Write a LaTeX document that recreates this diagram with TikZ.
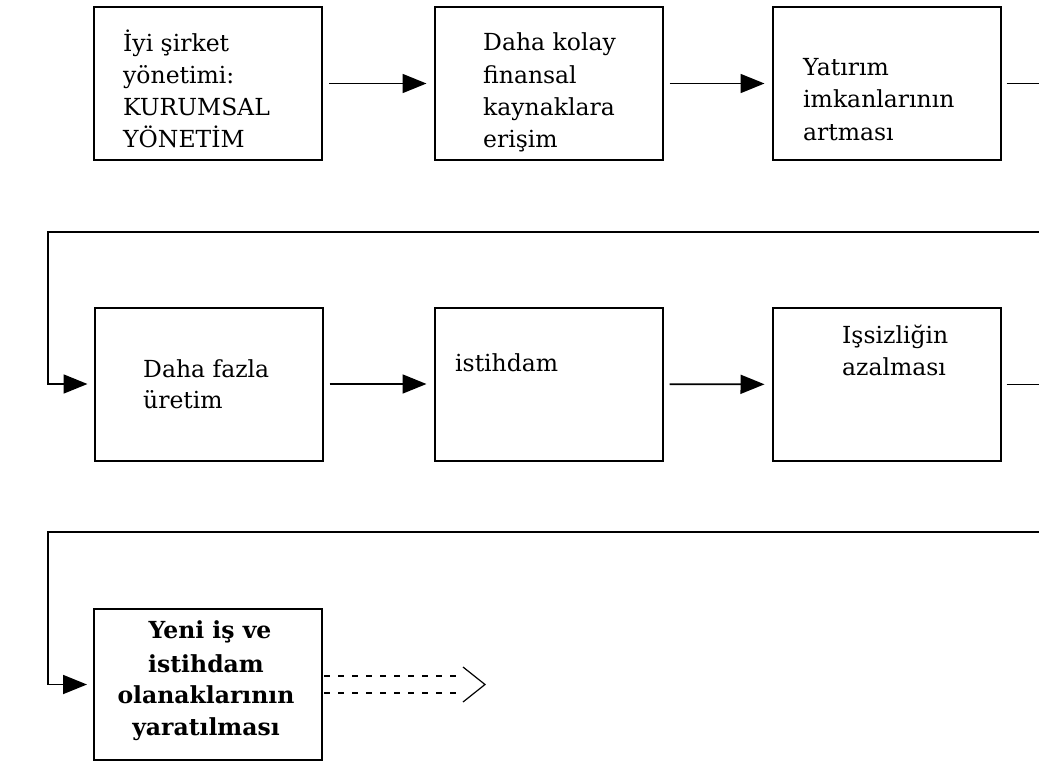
\documentclass[tikz,border=0pt]{standalone}
\usepackage{fontspec}
\setmainfont{DejaVu Serif}
\usetikzlibrary{arrows.meta}
\tikzset{
 box/.style={draw=black, line width=2pt, minimum width=228pt, minimum height=153pt, inner sep=0pt},
 lbl/.style={anchor=base west, inner sep=0pt, font=\fontsize{23.5}{32}\selectfont},
 blbl/.style={anchor=base, inner sep=0pt, font=\fontsize{23.5}{32}\selectfont\bfseries},
 conn/.style={line width=1.8pt},
 arr/.style={conn, -{Triangle[length=24pt,width=19pt]}},
 dline/.style={line width=1.2pt, dash pattern=on 6pt off 8pt},
}
\begin{document}
\begin{tikzpicture}[x=1pt,y=-1pt]
\useasboundingbox (0,0) rectangle (1039,763);
% boxes
\node[box] (b1) at (208,83.5) {};
\node[box] (b2) at (548.5,83.5) {};
\node[box] (b3) at (886.5,83.5) {};
\node[box] (b4) at (208.5,384) {};
\node[box] (b5) at (548.5,384) {};
\node[box] (b6) at (886.5,384.5) {};
\node[box, minimum height=151pt] (b7) at (208,684.5) {};
% texts
\node[lbl] (t1a) at (123,51) {İyi şirket};
\node[lbl] (t1b) at (123,83) {yönetimi:};
\node[lbl] (t1c) at (123,115) {KURUMSAL};
\node[lbl] (t1d) at (123,147) {YÖNETİM};
\node[lbl] (t2a) at (483,50) {Daha kolay};
\node[lbl] (t2b) at (483,83) {finansal};
\node[lbl] (t2c) at (483,115) {kaynaklara};
\node[lbl] (t2d) at (483,147) {erişim};
\node[lbl] (t3a) at (803,75) {Yatırım};
\node[lbl] (t3b) at (803,107) {imkanlarının};
\node[lbl] (t3c) at (803,140) {artması};
\node[lbl] (t4a) at (143,377) {Daha fazla};
\node[lbl] (t4b) at (143,408) {üretim};
\node[lbl] (t5a) at (455,371) {istihdam};
\node[lbl] (t6a) at (842,343) {Işsizliğin};
\node[lbl] (t6b) at (842,375) {azalması};
\node[blbl] (t7a) at (210,638) {Yeni iş ve};
\node[blbl] (t7b) at (206,672) {istihdam};
\node[blbl] (t7c) at (206,703) {olanaklarının};
\node[blbl] (t7d) at (206,735) {yaratılması};
% connectors row 1
\draw[arr, shorten <=6pt, shorten >=7pt] (b1) -- (b2);
\draw[arr, shorten <=6pt, shorten >=7pt] (b2) -- (b3);
\coordinate (r1) at (1039,83.5);
\draw[conn, shorten <=5pt] (b3.east) -- (r1);
% return to row 2
\coordinate (c1) at (1039,232);
\coordinate (c2) at (48,232);
\draw[arr, shorten >=6pt] (c1) -- (c2) |- (b4.west);
% row 2
\draw[arr, shorten <=6pt, shorten >=7pt] (b4) -- (b5);
\draw[arr, shorten <=6pt, shorten >=7pt] (b5) -- (b6);
\coordinate (r2) at (1039,384.5);
\draw[conn, shorten <=5pt] (b6.east) -- (r2);
% return to row 3
\coordinate (c3) at (1039,532);
\coordinate (c4) at (48,532);
\draw[arr, shorten >=6pt] (c3) -- (c4) |- (b7.west);
% dashed open arrow
\coordinate (dA) at (463,676);
\coordinate (dB) at (463,693);
\coordinate (dU) at (463,667);
\coordinate (dT) at (485,684.5);
\coordinate (dL) at (463,702);
\draw[dline] ([xshift=1pt]b7.east |- dA) -- (dA);
\draw[dline] ([xshift=1pt]b7.east |- dB) -- (dB);
\draw[line width=1.2pt] (dU) -- (dT) -- (dL);
\end{tikzpicture}
\end{document}
